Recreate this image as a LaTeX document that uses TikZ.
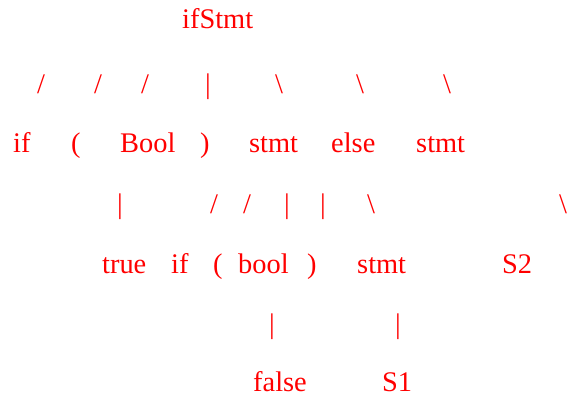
\documentclass[tikz,border=0pt]{standalone}
\usepackage{fontspec}
\setmainfont{Liberation Serif}
\usepackage{tikz}
\definecolor{TreeRed}{RGB}{255, 0, 0}
\tikzset{
  tok/.style={TreeRed, inner sep=0pt, anchor=base west, font=\fontsize{28.5}{34}\selectfont},
  brch/.style={TreeRed, inner sep=0pt, anchor=base, font=\fontsize{28.5}{34}\selectfont}
}

\begin{document}
\begin{tikzpicture}[x=1bp, y=-1bp]
    \useasboundingbox (0,0) rectangle (568,395);

    % Root
    \node[tok] (root) at (182,28) {ifStmt};

    % Branches below the root
    \node[brch] (b1) at (41,93) {/};
    \node[brch] (b2) at (98,93) {/};
    \node[brch] (b3) at (145,93) {/};
    \node[brch] (b4) at (208,93) {|};
    \node[brch] (b5) at (279,93) {\symbol{92}};
    \node[brch] (b6) at (360,93) {\symbol{92}};
    \node[brch] (b7) at (447,93) {\symbol{92}};

    % Level 1
    \node[tok] (kwif) at (13,152) {if};
    \node[tok] (lpar) at (71,152) {(};
    \node[tok] (cond) at (120,152) {Bool};
    \node[tok] (rpar) at (200,152) {)};
    \node[tok] (thenstmt) at (249,152) {stmt};
    \node[tok] (kwelse) at (331,152) {else};
    \node[tok] (elsestmt) at (416,152) {stmt};

    % Branches below level 1
    \node[brch] (c1) at (120,213) {|};
    \node[brch] (c2) at (214,213) {/};
    \node[brch] (c3) at (247,213) {/};
    \node[brch] (c4) at (287,213) {|};
    \node[brch] (c5) at (323,213) {|};
    \node[brch] (c6) at (371,213) {\symbol{92}};
    \node[brch] (c7) at (563,213) {\symbol{92}};

    % Level 2
    \node[tok] (valtrue) at (102,273) {true};
    \node[tok] (kwif2) at (171,273) {if};
    \node[tok] (lpar2) at (213,273) {(};
    \node[tok] (cond2) at (238,273) {bool};
    \node[tok] (rpar2) at (307,273) {)};
    \node[tok] (innerstmt) at (357,273) {stmt};
    \node[tok] (stwo) at (502,273) {S2};

    % Branches below level 2
    \node[brch] (d1) at (272,333) {|};
    \node[brch] (d2) at (398,333) {|};

    % Leaves
    \node[tok, text depth=0pt] (valfalse) at (253,391) {false};
    \node[tok, text depth=0pt] (sone) at (382,391) {S1};
\end{tikzpicture}
\end{document}
